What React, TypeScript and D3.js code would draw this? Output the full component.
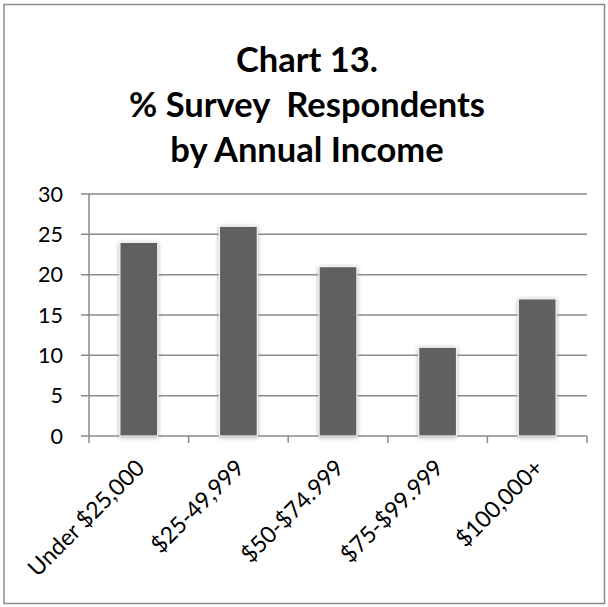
import React from "react";
import * as d3 from "d3";

const categories = ["Under $25,000", "$25-49,999", "$50-$74.999", "$75-$99.999", "$100,000+"];
const values = [24, 26, 21, 11, 17];
const yTicks = [0, 5, 10, 15, 20, 25, 30];
const titleLines = ["Chart 13.", "% Survey  Respondents", "by Annual Income"];

const W = 608;
const H = 607;
const left = 89;
const right = 587;
const top = 194;
const bottom = 436;
const FONT = "Lato, 'Noto Sans', sans-serif";

export default function App() {
  const x = d3.scaleBand<string>().domain(categories).range([left, right]).paddingInner(0.62).paddingOuter(0.31);
  const xb = d3.scaleBand<string>().domain(categories).range([left, right]);
  const y = d3.scaleLinear().domain([0, 30]).range([bottom, top]);
  const gridColor = "#8a8a8a";

  return (
    <svg width={W} height={H} style={{ position: "absolute", left: 0, top: 0 }}>
      <defs>
        <filter id="glow" x="-30%" y="-10%" width="160%" height="120%">
          <feDropShadow dx="0" dy="1" stdDeviation="2" floodColor="#9a9a9a" floodOpacity="0.8" />
        </filter>
      </defs>
      <rect x={0} y={0} width={W} height={H} fill="#fff" />
      <rect x={4} y={4.5} width={600.5} height={599} fill="none" stroke="#8c8c8c" strokeWidth={1.5} />
      {titleLines.map((t, i) => (
        <text
          key={i}
          x={307}
          y={72 + i * 45}
          textAnchor="middle"
          fontFamily={FONT}
          fontWeight="bold"
          fontSize={34.5}
          fill="#000"
          style={{ whiteSpace: "pre" }}
        >
          {t}
        </text>
      ))}
      {yTicks.map((t) => (
        <g key={t}>
          <line x1={81} x2={right} y1={y(t)} y2={y(t)} stroke={gridColor} strokeWidth={1.5} />
          <text
            x={63}
            y={y(t)}
            dy="0.36em"
            textAnchor="end"
            fontFamily={FONT}
            fontSize={21.5}
            fill="#000"
          >
            {t}
          </text>
        </g>
      ))}
      <line x1={left} x2={left} y1={top} y2={bottom + 7} stroke={gridColor} strokeWidth={1.5} />
      {categories.map((c) => (
        <line
          key={c}
          x1={(xb(c) as number) + xb.bandwidth()}
          x2={(xb(c) as number) + xb.bandwidth()}
          y1={bottom}
          y2={bottom + 7}
          stroke={gridColor}
          strokeWidth={1.5}
        />
      ))}
      {categories.map((c, i) => (
        <rect
          key={c}
          x={x(c)}
          y={y(values[i])}
          width={x.bandwidth()}
          height={bottom - y(values[i])}
          fill="#616161"
          stroke="#f4f4f4"
          strokeWidth={1.2}
          filter="url(#glow)"
        />
      ))}
      {categories.map((c) => {
        const cx = (xb(c) as number) + xb.bandwidth() / 2 - 5;
        const cy = bottom + 21;
        return (
          <text
            key={c}
            transform={`translate(${cx},${cy}) rotate(-45)`}
            textAnchor="end"
            dy="0.75em"
            fontFamily={FONT}
            fontSize={23}
            fill="#000"
          >
            {c}
          </text>
        );
      })}
    </svg>
  );
}
